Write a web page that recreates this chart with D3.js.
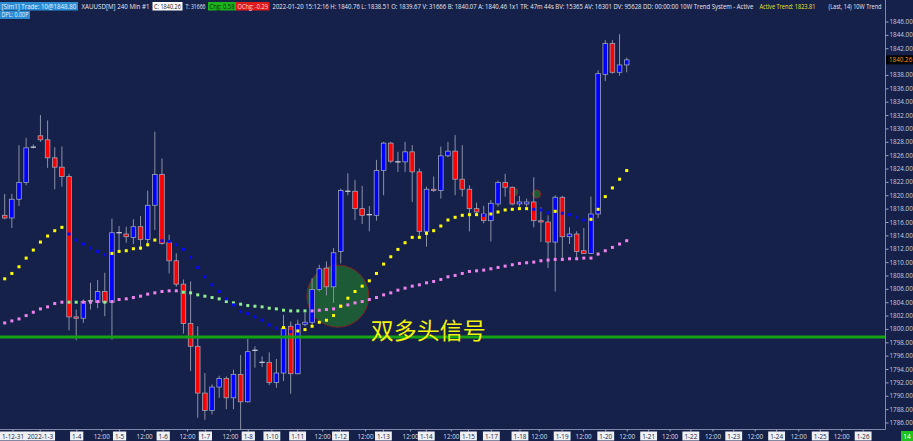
<!DOCTYPE html>
<html><head><meta charset="utf-8">
<script src="https://cdn.jsdelivr.net/npm/d3@7"></script>
<style>html,body{margin:0;padding:0;background:#16214a;overflow:hidden}</style>
</head><body><svg id="c" width="913" height="441"></svg>
<script>
// ---------- DATA ----------
const opens  = [1817.0,1816.6,1819.4,1821.9,1827.1,1828.9,1828.3,1825.6,1824.2,1822.8,
                1801.8,1801.6,1804.1,1804.0,1805.6,1804.0,1814.4,1814.2,1813.7,1815.3,
                1813.4,1818.5,1823.1,1812.9,1810.2,1806.7,1800.8,1797.4,1790.4,1787.8,
                1791.3,1792.6,1789.7,1793.2,1789.1,1796.8,1795.1,1795.0,1792.0,1793.4,
                1800.4,1793.3,1800.7,1801.0,1805.9,1809.1,1806.3,1811.6,1820.6,1820.6,
                1818.0,1817.1,1817.0,1823.7,1827.8,1825.1,1825.0,1826.5,1823.5,1814.6,
                1820.9,1820.7,1825.9,1826.6,1822.4,1820.9,1818.0,1817.2,1816.2,1818.7,
                1821.9,1821.2,1818.7,1818.7,1819.0,1816.2,1816.0,1813.0,1819.7,1813.8,
                1814.2,1811.7,1811.3,1817.2,1838.1,1842.7,1838.4,1839.5];
const highs  = [1820.2,1820.2,1827.5,1828.6,1827.6,1832.0,1831.2,1827.2,1827.3,1823.2,
                1802.9,1804.4,1806.9,1807.3,1808.4,1816.5,1815.4,1815.3,1816.4,1816.9,
                1820.7,1829.5,1825.5,1814.1,1811.3,1807.4,1807.1,1800.4,1793.4,1791.7,
                1793.0,1792.9,1793.9,1796.1,1798.5,1797.4,1795.9,1796.5,1795.5,1802.1,
                1801.1,1801.4,1802.4,1807.6,1809.6,1810.1,1812.1,1821.0,1823.3,1822.3,
                1821.4,1818.4,1825.3,1828.0,1828.0,1826.5,1828.0,1827.5,1824.0,1821.3,
                1822.8,1827.3,1828.0,1829.0,1827.5,1821.5,1818.9,1818.4,1819.3,1822.2,
                1823.2,1821.3,1819.9,1819.5,1822.7,1818.2,1817.0,1820.0,1819.9,1815.2,
                1814.6,1815.1,1819.8,1838.7,1843.2,1843.2,1844.1,1840.6];
const lows   = [1816.4,1815.1,1818.4,1821.5,1827.0,1828.0,1824.1,1820.9,1821.3,1799.8,
                1798.3,1800.9,1802.9,1803.1,1801.9,1798.4,1811.8,1812.9,1812.7,1811.8,
                1812.3,1814.8,1812.6,1808.3,1806.3,1799.3,1793.7,1786.7,1786.4,1787.2,
                1789.7,1788.0,1788.0,1785.0,1789.0,1794.2,1794.3,1791.6,1791.2,1792.2,
                1790.3,1793.2,1800.4,1800.4,1805.6,1805.0,1803.9,1809.8,1820.0,1816.3,
                1815.7,1814.6,1816.2,1820.0,1824.8,1823.5,1823.5,1819.0,1813.6,1812.3,
                1820.5,1819.5,1825.7,1820.0,1819.8,1814.6,1817.0,1815.8,1813.1,1818.3,
                1819.8,1818.5,1818.3,1818.3,1815.2,1813.0,1809.1,1805.6,1810.6,1812.7,
                1810.3,1811.2,1811.2,1816.6,1837.1,1838.2,1837.9,1838.4];
const closes = [1816.6,1819.4,1821.9,1827.1,1827.2,1828.3,1825.6,1824.2,1822.8,1801.8,
                1801.6,1804.1,1804.2,1805.6,1804.0,1814.4,1814.4,1813.8,1815.3,1813.4,
                1818.5,1823.1,1812.8,1810.2,1806.7,1800.8,1797.4,1790.4,1787.8,1791.3,
                1792.6,1789.7,1793.2,1789.1,1796.6,1796.8,1795.0,1792.0,1793.4,1800.1,
                1793.3,1800.7,1801.0,1805.9,1809.0,1806.3,1811.4,1820.7,1820.6,1818.0,
                1817.0,1817.1,1823.7,1827.8,1825.1,1825.0,1826.5,1823.5,1814.6,1820.9,
                1820.7,1825.9,1826.6,1822.4,1820.9,1818.0,1817.5,1816.2,1818.8,1821.9,
                1821.2,1818.7,1819.0,1819.0,1816.2,1816.0,1813.0,1819.7,1813.8,1814.2,
                1811.6,1811.3,1817.2,1838.2,1842.7,1838.4,1839.5,1840.26];

const fastMA = [1807.5,1808.3,1809.3,1810.6,1811.8,1813.0,1813.9,1814.7,1815.2,1814.2,
                1813.3,1812.7,1812.1,1811.6,1811.1,1811.3,1811.6,1811.7,1812.0,1812.1,
                1812.6,1813.3,1813.2,1813.1,1812.6,1811.9,1810.7,1809.2,1807.8,1806.6,
                1805.6,1804.5,1803.6,1802.6,1802.3,1801.8,1801.3,1800.6,1800.1,1800.2,
                1799.6,1799.7,1799.9,1800.4,1801.0,1801.3,1802.0,1803.4,1804.6,1805.6,
                1806.4,1807.2,1808.3,1809.7,1810.8,1811.9,1812.9,1813.7,1813.7,1814.3,
                1814.7,1815.4,1816.3,1816.7,1817.0,1817.1,1817.1,1817.0,1817.2,1817.5,
                1817.8,1817.9,1818.0,1818.0,1817.9,1817.8,1817.4,1817.6,1817.3,1817.1,
                1816.7,1816.3,1816.4,1817.9,1819.8,1821.1,1822.4,1823.7];
// 1 = up (yellow), 0 = down (blue)
const fastUp = [1,1,1,1,1,1,1,1,1,0, 0,0,0,0,0,1,1,1,1,1, 1,1,0,0,0,0,0,0,0,0,
                0,0,0,0,0,0,0,0,0,1, 0,1,1,1,1,1,1,1,1,1, 1,1,1,1,1,1,1,1,1,1,
                1,1,1,1,1,1,1,0,1,1, 1,1,1,1,0,0,0,1,0,0, 0,0,1,1,1,1,1,1];

const slowMA = [1800.9,1801.2,1801.5,1802.0,1802.5,1803.0,1803.3,1803.8,1804.0,1804.0,
                1804.0,1804.0,1804.0,1804.1,1804.0,1804.1,1804.4,1804.5,1804.7,1804.9,
                1805.2,1805.4,1805.6,1805.7,1805.7,1805.5,1805.4,1805.1,1804.9,1804.7,
                1804.5,1804.1,1803.9,1803.7,1803.5,1803.4,1803.3,1803.1,1803.0,1802.8,
                1802.7,1802.7,1802.7,1802.7,1802.8,1802.9,1803.0,1803.4,1803.6,1803.9,
                1804.1,1804.4,1804.7,1805.1,1805.4,1805.8,1806.1,1806.4,1806.6,1806.9,
                1807.1,1807.4,1807.8,1808.0,1808.3,1808.6,1808.7,1808.8,1809.0,1809.2,
                1809.4,1809.6,1809.8,1809.9,1810.0,1810.2,1810.3,1810.4,1810.4,1810.5,
                1810.5,1810.6,1810.6,1811.2,1811.7,1812.2,1812.7,1813.2];
// 1 = falling state (light green), 0 = normal (violet)
const slowAlt = [0,0,0,0,0,0,0,0,0,1, 1,0,0,0,1,0,0,0,0,0, 0,0,0,0,0,1,1,1,1,1,
                 1,1,1,1,1,1,1,1,1,1, 1,1,1,0,0,0,0,0,0,0, 0,0,0,0,0,0,0,0,0,0,
                 0,0,0,0,0,0,0,0,0,0, 0,0,0,0,0,0,0,0,0,0, 0,0,0,0,0,0,0,0];

const tickIdx    = [0.75,4.9,10,13.5,16,19.5,22.1,25.5,28,31.5,34,37.3,40.9,44.4,46.9,50.4,52.9,56.7,58.9,62.4,
                    64.8,68,72,74.7,77.9,80.9,84,87,90,93,95.9,99,101.9,104.9,107.9,111,114,117,120];
const tickLabels = ["1-12-31","2022-1-3","1-4","12:00","1-5","12:00","1-6","12:00","1-7","12:00","1-8","1-10","1-11","12:00","1-12","12:00","1-13","12:00","1-14","12:00",
                    "1-15","1-17","1-18","12:00","1-19","12:00","1-20","12:00","1-21","12:00","1-22","12:00","1-23","12:00","1-24","12:00","1-25","12:00","1-26"];
const priceTicks = d3.range(1786, 1847, 2);
const refLevel = 1798.8;
const lastPrice = 1840.26;
const signalIdx = 46.6, signalPrice = 1804.9;
const miniSignalIdx = [71.2, 74.4], miniSignalPrice = [1820.5, 1820.2];
const signalText = "双多头信号";
const barsCount = "14";

const headerLine1 = [
  {t:"[Sim1]  Trade: 10@1848.80", bg:"#2b8bd2", fg:"#e6f3ff"},
  {t:"XAUUSD[M]  240 Min  #1", bg:null, fg:"#e8e8f0"},
  {t:"C: 1840.26", bg:"#ffffff", fg:"#202020"},
  {t:"T: 31666", bg:null, fg:"#e8e8f0"},
  {t:"Chg: 0.58", bg:"#1bb21b", fg:"#0a2a0a"},
  {t:"OChg: -0.29", bg:"#e01b1b", fg:"#ffdada"},
  {t:"2022-01-20 15:12:16 H: 1840.76 L: 1838.51 O: 1839.67 V: 31666 B: 1840.07 A: 1840.46 1x1 TR: 47m 44s BV: 15365 AV: 16301 DV: 95628 DD: 00:00:00 10W Trend System - Active", bg:null, fg:"#e8e8f0"},
  {t:"Active Trend: 1823.81", bg:null, fg:"#e6e62a"},
  {t:"(Last, 14)  10W Trend", bg:null, fg:"#e8e8f0"}
];
// layout extents of header segments (px)
const headerX = [[0,78],[80,151],[152.5,182.5],[184,207],[208,236],[236,269.5],[271,755],[758,817],[827,883]];

// ---------- DRAW ----------
const W = 913, H = 441, plotR = 885, plotB = 429;
const svg = d3.select("#c");
svg.append("rect").attr("width",W).attr("height",H).attr("fill","#16214a");

const x = d3.scaleLinear().domain([0, 87]).range([4.7, 626.7]);
const y = d3.scaleLinear().domain([1786, 1846]).range([422.5, 21.5]);

const defs = svg.append("defs");
defs.append("clipPath").attr("id","plotClip").append("rect").attr("x",0).attr("y",0).attr("width",plotR).attr("height",plotB);
const plot = svg.append("g").attr("clip-path","url(#plotClip)");

// signal circles
plot.append("circle").attr("cx", x(signalIdx)).attr("cy", y(signalPrice)).attr("r", 31)
  .attr("fill","#1d5a36").attr("stroke","#7a2424").attr("stroke-width",1);
plot.selectAll(".mini").data(miniSignalIdx).join("circle")
  .attr("cx",(d)=>x(d)).attr("cy",(d,i)=>y(miniSignalPrice[i])).attr("r",4)
  .attr("fill","#1d5a36").attr("stroke","#8a2a2a").attr("stroke-width",1);

// candles
const bars = d3.range(opens.length);
const cg = plot.append("g");
cg.selectAll(".wick").data(bars).join("line")
  .attr("x1",i=>x(i)).attr("x2",i=>x(i))
  .attr("y1",i=>y(highs[i])).attr("y2",i=>y(lows[i]))
  .attr("stroke","#8a90a6").attr("stroke-width",1);
const bodyW = 4.6;
cg.selectAll(".body").data(bars.filter(i=>Math.abs(closes[i]-opens[i])>=0.15)).join("rect")
  .attr("x",i=>x(i)-bodyW/2).attr("width",bodyW)
  .attr("y",i=>y(Math.max(opens[i],closes[i])))
  .attr("height",i=>Math.max(1.2, Math.abs(y(opens[i])-y(closes[i]))))
  .attr("fill",i=>closes[i]>opens[i]?"#0000ff":"#ff0000")
  .attr("stroke","#9ea3ba").attr("stroke-width",0.8);
cg.selectAll(".doji").data(bars.filter(i=>Math.abs(closes[i]-opens[i])<0.15)).join("line")
  .attr("x1",i=>x(i)-bodyW/2-0.4).attr("x2",i=>x(i)+bodyW/2+0.4)
  .attr("y1",i=>y(closes[i])).attr("y2",i=>y(closes[i]))
  .attr("stroke","#c4c8d6").attr("stroke-width",1.3);

// reference level line
plot.append("line").attr("x1",0).attr("x2",plotR).attr("y1",y(refLevel)).attr("y2",y(refLevel))
  .attr("stroke","#15a315").attr("stroke-width",3);

// MA dots
const ds = 3;
plot.selectAll(".slow").data(bars).join("rect")
  .attr("x",i=>x(i)-ds/2).attr("y",i=>y(slowMA[i])-ds/2).attr("width",ds).attr("height",ds)
  .attr("fill",i=>slowAlt[i]?"#90ee90":"#ee82ee");
plot.selectAll(".fast").data(bars).join("rect")
  .attr("x",i=>x(i)-ds/2).attr("y",i=>y(fastMA[i])-ds/2).attr("width",ds).attr("height",ds)
  .attr("fill",i=>fastUp[i]?"#ffff00":"#0a0af0");

// signal text
plot.append("text").attr("x", x(signalIdx)+33).attr("y", y(signalPrice)+43)
  .attr("font-family","'Noto Sans CJK SC', sans-serif").attr("font-size",23)
  .attr("fill","#f2f20c").text(signalText);

// frame lines
svg.append("line").attr("x1",plotR+0.5).attr("x2",plotR+0.5).attr("y1",0).attr("y2",plotB+0.5)
  .attr("stroke","#7d89a6").attr("stroke-width",1);
svg.append("line").attr("x1",0).attr("x2",plotR+0.5).attr("y1",plotB+0.5).attr("y2",plotB+0.5)
  .attr("stroke","#7d89a6").attr("stroke-width",1);

// right price axis (the tick hidden under the last-price box is left out, as in the original)
const visibleTicks = priceTicks.filter(v => Math.abs(y(v)-y(lastPrice)) > 7);
const yAxis = d3.axisRight(y).tickValues(visibleTicks).tickFormat(d3.format(".2f")).tickSize(3).tickPadding(1);
const ya = svg.append("g").attr("transform",`translate(${plotR+0.5},0)`).call(yAxis);
ya.select(".domain").remove();
ya.selectAll("line").attr("stroke","#9aa4bc");
ya.selectAll("text").attr("fill","#c8cdda").attr("font-family","'Open Sans', sans-serif").attr("font-size",6.3);

// last price box
const lp = svg.append("g");
lp.append("rect").attr("x",plotR+1).attr("y",y(lastPrice)-4.5).attr("width",27).attr("height",9).attr("fill","#000");
lp.append("text").attr("x",plotR+4).attr("y",y(lastPrice)+2.3).attr("fill","#ff9414")
  .attr("font-family","'Open Sans', sans-serif").attr("font-size",6.3).text(lastPrice.toFixed(2));

// bottom time axis
const xAxis = d3.axisBottom(x).tickValues(tickIdx).tickFormat((d,i)=>tickLabels[i]).tickSize(2).tickPadding(3);
const xa = svg.append("g").attr("transform",`translate(0,${plotB+0.5})`).call(xAxis);
xa.select(".domain").remove();
xa.selectAll("line").attr("stroke","#9aa4bc");
xa.selectAll("text").attr("font-family","'Open Sans', sans-serif").attr("font-size",6.3)
  .attr("fill",(d,i)=>tickLabels[i]==="12:00"?"#d8dce6":"#1a2040");
xa.selectAll(".tick").each(function(d,i){
  if (tickLabels[i]==="12:00") return;
  const g = d3.select(this), t = g.select("text");
  const w = t.node().getComputedTextLength()+4;
  g.insert("rect","text").attr("x",-w/2).attr("y",2).attr("width",w).attr("height",9).attr("fill","#eef0f4");
});
xa.selectAll(".tick").filter((d,i)=>i===0).attr("transform",function(){
  const t=d3.select(this).select("text").node().getComputedTextLength()+4;
  return `translate(${t/2},0)`;
});

// bars counter box
svg.append("rect").attr("x",901).attr("y",431).attr("width",12).attr("height",10).attr("fill","#1fc21f");
svg.append("text").attr("x",907).attr("y",439).attr("text-anchor","middle").attr("fill","#ffffff")
  .attr("font-family","'Open Sans', sans-serif").attr("font-size",6.5).text(barsCount);

// header: each segment keeps its glyph height and is squeezed horizontally to fit its slot
const hg = svg.append("g").attr("font-family","'Open Sans', sans-serif");
function fitText(sel, x0, yb, target, base){
  sel.attr("font-size", base).attr("x",0).attr("y",0);
  const n = sel.node().getComputedTextLength();
  const sx = n > target ? target/n : 1;
  sel.attr("transform", `translate(${x0},${yb}) scale(${sx},1)`);
}
headerLine1.forEach((s,i)=>{
  const [a,b] = headerX[i];
  if (s.bg) hg.append("rect").attr("x",a).attr("y",2).attr("width",b-a).attr("height",8.5).attr("fill",s.bg);
  const t = hg.append("text").attr("fill",s.fg).text(s.t);
  fitText(t, a+1.5, 8.7, b-a-3, 7);
});
hg.append("rect").attr("x",0).attr("y",11).attr("width",30).attr("height",8).attr("fill","#2b8bd2");
const dpl = hg.append("text").attr("fill","#e6f3ff").text("DPL: 0.00P");
fitText(dpl, 1.5, 17.4, 27, 7);
</script></body></html>
